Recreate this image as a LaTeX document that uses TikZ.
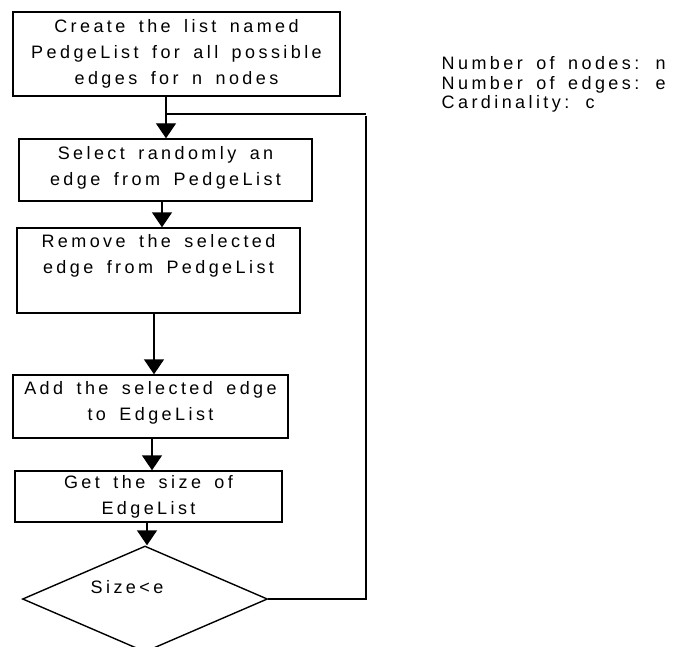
\documentclass[tikz,border=0pt]{standalone}
\usepackage{fontspec}
\setmainfont{Liberation Sans}[LetterSpace=19, WordSpace=1.6]
\usetikzlibrary{shapes.geometric,arrows.meta}
\begin{document}
\begin{tikzpicture}[x=1pt,y=-1pt,
  line width=1.4pt,
  every node/.style={font=\fontsize{18}{26}\selectfont},
  stepbox/.style={draw, rectangle, inner sep=0pt, align=center},
  decide/.style={draw, diamond, inner sep=0pt, minimum width=245pt, minimum height=106pt},
  plain/.style={inner sep=0pt},
  arr/.style={-{Triangle[length=15pt,width=20pt]}}]
\useasboundingbox (0,0) rectangle (674,647);
\clip (0,0) rectangle (674,647);

% process boxes
\node[stepbox, minimum width=327pt, minimum height=84pt] (b1) at (176.5,54)
  {Create the list named\\PedgeList for all possible\\edges for n nodes};
\node[stepbox, minimum width=293pt, minimum height=62pt] (b2) at (165.5,170)
  {Select randomly an\\edge from PedgeList\\[-17pt]\mbox{}};
\node[stepbox, minimum width=283pt, minimum height=85pt] (b3) at (158.5,270.5)
  {Remove the selected\\edge from PedgeList\\[8pt]\mbox{}};
\node[stepbox, minimum width=275pt, minimum height=63pt] (b4) at (150.5,406.5)
  {Add the selected edge\\to EdgeList\\[-14pt]\mbox{}};
\node[stepbox, minimum width=267pt, minimum height=51pt] (b5) at (148.5,496.5)
  {Get the size of\\EdgeList};

% decision
\node[decide] (d) at (145,599) {};
\node[plain] (dt) at (127,587) {Size<e};

% legend
\node[plain, anchor=north west, align=left, font=\fontsize{18}{19.5}\selectfont] (info) at (441,56)
  {Number of nodes: n\\Number of edges: e\\Cardinality: c};

% flow
\coordinate (j) at (166,114);
\coordinate (r) at (366,114);
\draw ([xshift=-10.5pt]b1.south) -- (j);
\draw[arr] (j) -- (j |- b2.north);
\draw[arr] ([xshift=-3.5pt]b2.south) -- ([xshift=-3.5pt]b2.south |- b3.north);
\draw[arr] ([xshift=-4.5pt]b3.south) -- ([xshift=-4.5pt]b3.south |- b4.north);
\draw[arr] ([xshift=1.5pt]b4.south) -- ([xshift=1.5pt]b4.south |- b5.north);
\draw[arr] ([xshift=-1.5pt]b5.south) -- ([xshift=-1.5pt]b5.south |- d.north);

% loop back
\draw (d.east) -| ([yshift=-2pt]r) (r) -- (j);
\end{tikzpicture}
\end{document}
